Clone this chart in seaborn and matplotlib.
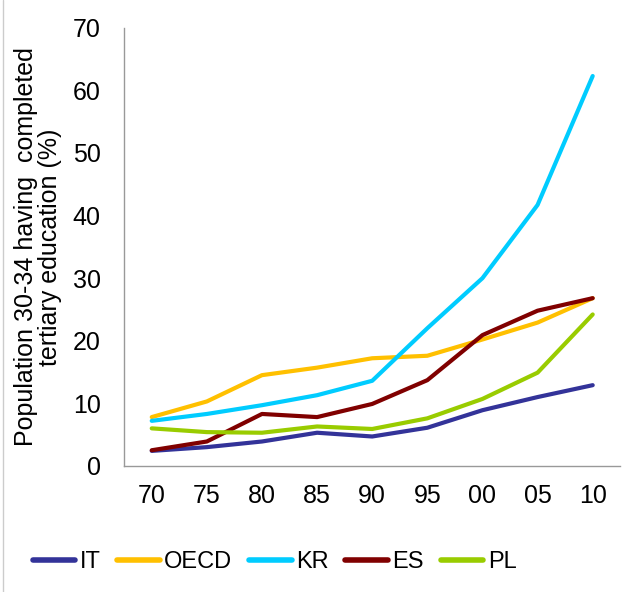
import pandas as pd
import seaborn as sns
import matplotlib.pyplot as plt

years = ['70', '75', '80', '85', '90', '95', '00', '05', '10']
it = [2.4, 3.0, 3.9, 5.3, 4.7, 6.1, 8.9, 11.0, 12.9]
oecd = [7.8, 10.3, 14.5, 15.7, 17.2, 17.6, 20.2, 22.9, 26.8]
kr = [7.2, 8.3, 9.7, 11.3, 13.6, 22.0, 30.0, 41.7, 62.3]
es = [2.5, 3.9, 8.3, 7.8, 9.9, 13.7, 20.9, 24.8, 26.8]
pl = [6.0, 5.4, 5.3, 6.3, 5.9, 7.6, 10.7, 14.9, 24.2]

series = {'IT': it, 'OECD': oecd, 'KR': kr, 'ES': es, 'PL': pl}
colors = {'IT': '#333399', 'OECD': '#FFC000', 'KR': '#00CCFF',
          'ES': '#800000', 'PL': '#99CC00'}

rows = []
for name, vals in series.items():
    for i, v in enumerate(vals):
        rows.append({'pos': i, 'country': name, 'value': v})
df = pd.DataFrame(rows)

sns.set_style('white')
plt.rcParams['font.family'] = ['Liberation Sans', 'DejaVu Sans']
plt.rcParams['text.color'] = 'black'

fig = plt.figure(figsize=(6.24, 5.92), dpi=100)
ax = fig.add_axes([0.199, 0.213, 0.795, 0.74])

sns.lineplot(data=df, x='pos', y='value', hue='country', palette=colors,
             linewidth=3, ax=ax, legend=False)

ax.set_xlim(-0.5, len(years) - 0.5)
ax.set_ylim(0, 70)
ax.set_xticks(range(len(years)))
ax.set_xticklabels(years)
ax.set_yticks(range(0, 71, 10))
ax.tick_params(axis='both', length=0, labelsize=18, labelcolor='black')
ax.tick_params(axis='y', pad=17)
ax.tick_params(axis='x', pad=13)
ax.set_xlabel('')
ax.set_ylabel('Population 30-34 having  completed\ntertiary education (%)',
              fontsize=18, color='black', linespacing=1.0)
ax.yaxis.set_label_coords(-0.125, 0.5)

for side in ['top', 'right']:
    ax.spines[side].set_visible(False)
for side in ['left', 'bottom']:
    ax.spines[side].set_color('#999999')
    ax.spines[side].set_linewidth(1)

# thin frame line at the left edge like the original export
fig.add_artist(plt.Line2D([0.005, 0.005], [0, 1], color='#cccccc', linewidth=1))

handles = [plt.Line2D([], [], color=colors[n], linewidth=4, solid_capstyle='round')
           for n in series]
fig.legend(handles, list(series), loc='center', bbox_to_anchor=(0.44, 0.05),
           ncol=5, frameon=False, fontsize=17, handlelength=1.8,
           handletextpad=0.2, columnspacing=0.7)

plt.savefig('out.png', dpi=100)
